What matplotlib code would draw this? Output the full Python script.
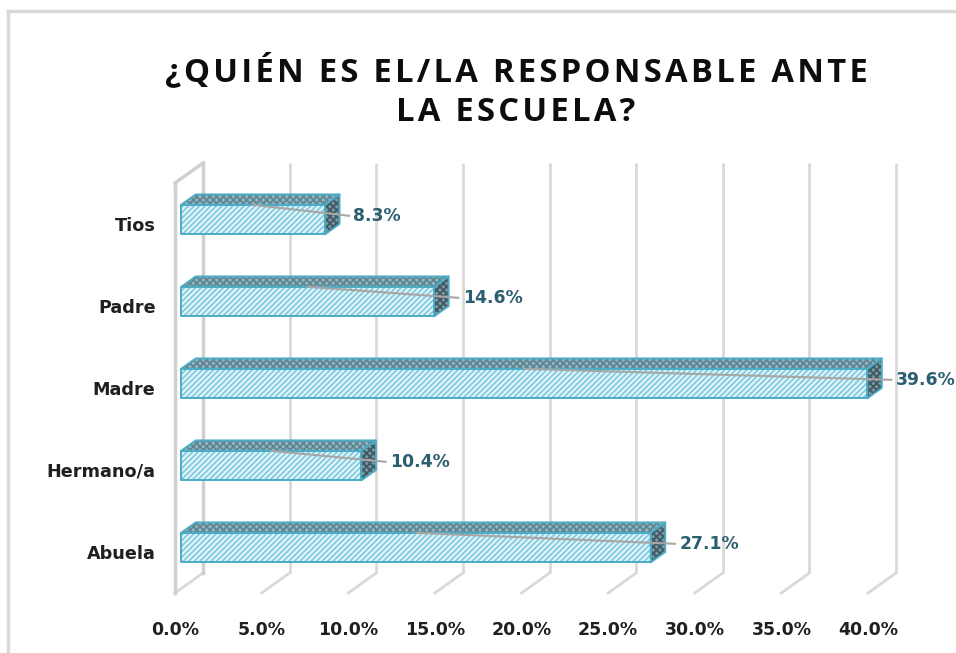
import matplotlib
matplotlib.use('Agg')
import matplotlib.pyplot as plt
from matplotlib.patches import Polygon
from matplotlib.lines import Line2D

categories = ['Abuela', 'Hermano/a', 'Madre', 'Padre', 'Tios']
values = [27.1, 10.4, 39.6, 14.6, 8.3]
xticks = [0, 5, 10, 15, 20, 25, 30, 35, 40]
title = '¿QUIÉN ES EL/LA RESPONSABLE ANTE\nLA ESCUELA?'

plt.rcParams['hatch.linewidth'] = 1.3

W, H = 956, 653
fig = plt.figure(figsize=(W / 100, H / 100), dpi=100)
ax = fig.add_axes([175 / W, 1 - 593 / H, 693 / W, 410 / H])
ax.set_xlim(0, 40)
ax.set_ylim(-0.5, 4.5)

# depth of the "3d" box, in data units (28px right, 20px up)
DX = 28 / (693 / 40)
DY = 20 / (410 / 5)
zf, zb = 0.22, 0.74   # bar front / back depth
bh = 0.36             # bar height

grid_c = '#D9D9D9'
for x in xticks:
    ax.plot([x + DX, x + DX], [-0.5 + DY, 4.5 + DY], color=grid_c, lw=2,
            zorder=1, clip_on=False, solid_capstyle='butt')
    ax.plot([x, x + DX], [-0.5, -0.5 + DY], color=grid_c, lw=2,
            zorder=1, clip_on=False)
# left wall
wall_c = '#D0D0D0'
ax.plot([0, 0], [-0.5, 4.5], color=wall_c, lw=2.5, zorder=1, clip_on=False)
ax.plot([0, DX], [4.5, 4.5 + DY], color=wall_c, lw=2.5, zorder=1, clip_on=False)
ax.plot([DX, DX], [-0.5 + DY, 4.5 + DY], color=wall_c, lw=2.5, zorder=1, clip_on=False)


def pt(x, y, z):
    return (x + z * DX, y + z * DY)


def face(pts, fc, hc, hatch):
    ax.add_patch(Polygon(pts, closed=True, facecolor=fc, edgecolor=hc,
                         hatch=hatch, lw=0, zorder=3, clip_on=False))
    ax.add_patch(Polygon(pts, closed=True, fill=False, edgecolor='#4BACC6',
                         lw=1.4, zorder=4, clip_on=False, joinstyle='round'))


label_c = '#2B5F70'
for i, v in enumerate(values):
    y0, y1 = i - bh / 2, i + bh / 2
    # top face
    face([pt(0, y1, zf), pt(v, y1, zf), pt(v, y1, zb), pt(0, y1, zb)],
         '#93B8C4', '#5F8591', 'xxxxx')
    # side face
    face([pt(v, y0, zf), pt(v, y1, zf), pt(v, y1, zb), pt(v, y0, zb)],
         '#7E98A1', '#3F5964', 'xxxxx')
    # front face
    face([pt(0, y0, zf), pt(v, y0, zf), pt(v, y1, zf), pt(0, y1, zf)],
         '#E6F5F9', '#7FCBE0', '//////')
    # data label with leader line
    lx, ly = v + 2.0, i + 0.1
    sx, sy = pt(v * 0.5, y1, zf)
    ax.plot([sx, lx - 0.25], [sy, ly], color='#A6A6A6', lw=1.5,
            zorder=5, clip_on=False)
    ax.text(lx, ly, f'{v:.1f}%', ha='left', va='center', fontsize=12.4,
            fontweight='bold', color=label_c, zorder=6)

ax.set_xticks(xticks)
ax.set_xticklabels([f'{x:.1f}%' for x in xticks])
ax.set_yticks(range(len(categories)))
ax.set_yticklabels(categories)
ax.tick_params(axis='x', length=0, pad=20, labelsize=12.5, labelcolor='#1F1F1F')
ax.tick_params(axis='y', length=0, pad=14, labelsize=12.7, labelcolor='#1F1F1F')
for lab in ax.get_xticklabels() + ax.get_yticklabels():
    lab.set_fontweight('bold')
for s in ax.spines.values():
    s.set_visible(False)
ax.patch.set_visible(False)

# chart border
fig.add_artist(Line2D([8 / W, 1], [1 - 11 / H, 1 - 11 / H], color='#D9D9D9', lw=2.5))
fig.add_artist(Line2D([8 / W, 8 / W], [1 - 11 / H, 0], color='#D9D9D9', lw=2.5))

spaced = '\n'.join('\u200a'.join(line) for line in title.split('\n'))
fig.text(516 / W, 1 - 91 / H, spaced, ha='center', va='center',
         fontsize=23.6, fontweight='bold', family=['Open Sans', 'DejaVu Sans'],
         color='#0D0D0D', linespacing=1.3)

fig.savefig('out.png', dpi=100)
